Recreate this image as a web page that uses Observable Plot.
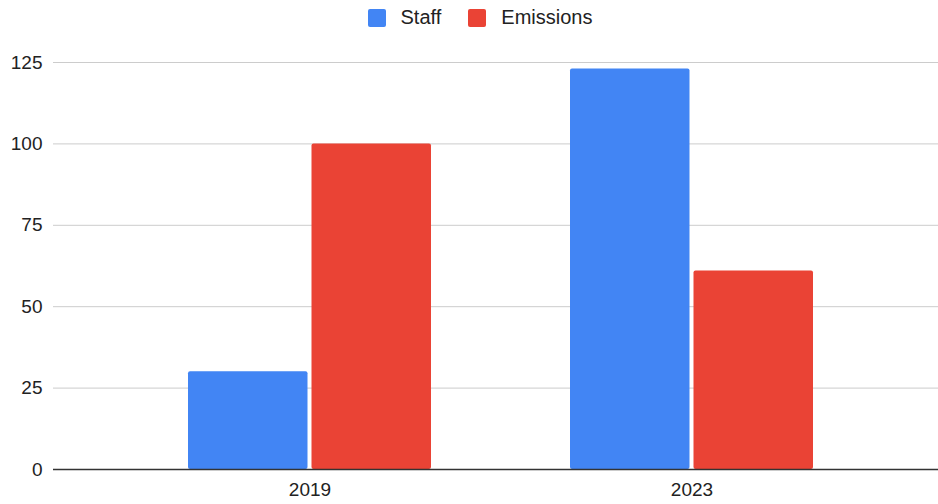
<!DOCTYPE html>
<html>
<head>
<meta charset="utf-8">
<script src="https://cdn.jsdelivr.net/npm/d3@7"></script>
<script src="https://cdn.jsdelivr.net/npm/@observablehq/plot@0.6"></script>
<style>
  html, body { margin: 0; padding: 0; background: #fff; }
  body { width: 938px; height: 504px; overflow: hidden; font-family: "Liberation Sans", Arial, sans-serif; }
  #legend { height: 35px; display: flex; justify-content: center; align-items: center; font-size: 20px; color: #222; padding-left: 22px; box-sizing: border-box; }
  .item { display: flex; align-items: center; }
  .sw { width: 18px; height: 18px; border-radius: 2px; margin-right: 15px; }
  .item + .item { margin-left: 27px; }
</style>
</head>
<body>
<div id="legend"></div>
<div id="chart"></div>
<script>
const years = ["2019", "2023"];
const seriesNames = ["Staff", "Emissions"];
const staffValues = [30, 123];
const emissionValues = [100, 61];
const yTicks = [0, 25, 50, 75, 100, 125];
const colors = ["#4285F4", "#EA4335"];

const staff = years.map((y, i) => ({year: y, series: "Staff", value: staffValues[i]}));
const emissions = years.map((y, i) => ({year: y, series: "Emissions", value: emissionValues[i]}));

const legend = document.getElementById("legend");
seriesNames.forEach((s, i) => {
  const it = document.createElement("div");
  it.className = "item";
  it.innerHTML = `<span class="sw" style="background:${colors[i]}"></span><span>${s}</span>`;
  legend.appendChild(it);
});

const chart = Plot.plot({
  width: 938,
  height: 469,
  marginLeft: 53,
  marginRight: 0,
  marginTop: 27,
  marginBottom: 35,
  style: {fontFamily: "'Liberation Sans', Arial, sans-serif", fontSize: "19px", color: "#222", background: "#fff"},
  x: {domain: years, paddingInner: 0.364, paddingOuter: 0.34, align: 0.52, label: null, axis: null},
  y: {domain: [0, 125], label: null, axis: null},
  color: {domain: seriesNames, range: colors},
  marks: [
    Plot.ruleY(yTicks.filter(d => d > 0), {stroke: "#cccccc", strokeWidth: 1}),
    Plot.barY(staff, {x: "year", y: "value", fill: "series", insetRight: 123.5, rx: 2}),
    Plot.barY(emissions, {x: "year", y: "value", fill: "series", insetLeft: 123.5, rx: 2}),
    Plot.ruleY([0], {stroke: "#333333", strokeWidth: 1.5}),
    Plot.axisY({ticks: yTicks, tickSize: 0, tickPadding: 11, label: null, fill: "#222", fontSize: 19}),
    Plot.axisX({tickSize: 0, tickPadding: 13, label: null, fill: "#222", fontSize: 19})
  ]
});
document.getElementById("chart").appendChild(chart);
</script>
</body>
</html>
